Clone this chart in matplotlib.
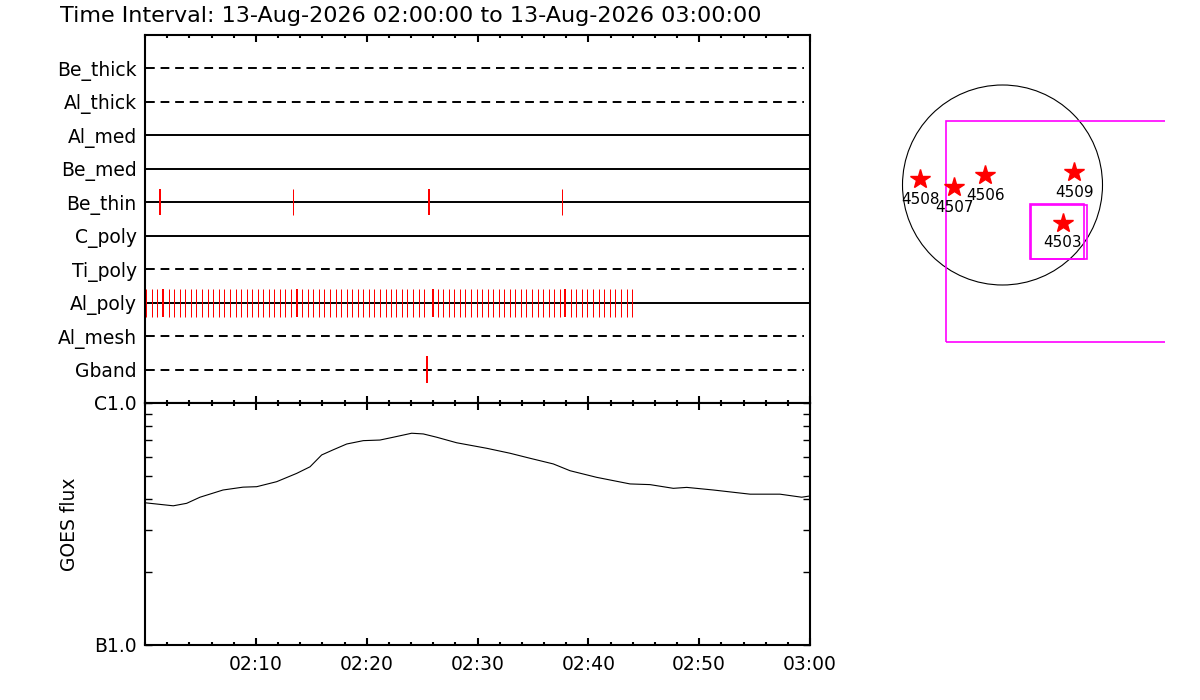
import numpy as np
import matplotlib
matplotlib.use('Agg')
import matplotlib.pyplot as plt
from matplotlib.patches import Circle, Rectangle
from matplotlib.ticker import MultipleLocator, FixedLocator, NullFormatter

# ---- data (time in minutes after 02:00:00) ----
title = 'Time Interval: 13-Aug-2026 02:00:00 to 13-Aug-2026 03:00:00'

filters = ['Be_thick', 'Al_thick', 'Al_med', 'Be_med', 'Be_thin',
           'C_poly', 'Ti_poly', 'Al_poly', 'Al_mesh', 'Gband']
filters_in = ['Al_med', 'Be_med', 'Be_thin', 'C_poly', 'Al_poly']

be_thin_major = [1.35, 25.6]
be_thin_minor = [13.35, 37.6]
al_poly_major = [1.65, 13.69, 25.96, 37.89]
al_poly_minor = [0.09, 0.60, 1.11, 2.14, 2.65, 3.14, 3.64, 4.13, 4.63, 5.14,
                 5.66, 6.16, 6.68, 7.16, 7.67, 8.18, 8.66, 9.17, 9.68, 10.17,
                 10.67, 11.16, 11.67, 12.18, 12.66, 13.17, 14.17, 14.68, 15.19,
                 15.70, 16.18, 16.69, 17.20, 17.68, 18.20, 18.70, 19.19, 19.70,
                 20.18, 20.69, 21.20, 21.70, 22.17, 22.67, 23.16, 23.67, 24.18,
                 24.70, 25.20, 26.41, 26.89, 27.40, 27.88, 28.39, 28.90, 29.41,
                 29.93, 30.41, 30.92, 31.43, 31.91, 32.42, 32.91, 33.41, 33.90,
                 34.40, 34.92, 35.43, 35.91, 36.42, 36.90, 37.42, 38.44, 38.91,
                 39.43, 39.91, 40.42, 40.93, 41.44, 41.93, 42.43, 42.95, 43.46,
                 43.97]
gband_major = [25.4]

goes_t = [0.0, 2.55, 3.76, 4.96, 7.04, 8.84, 10.08, 11.88, 13.69, 14.89,
          15.94, 16.96, 18.20, 19.70, 21.20, 22.40, 24.06, 25.11, 26.32, 28.12,
          30.83, 32.93, 34.74, 36.84, 38.35, 40.75, 43.76, 45.56, 47.67, 48.88,
          51.28, 54.59, 57.29, 59.25, 60.0]
goes_flux = [3.87e-7, 3.76e-7, 3.85e-7, 4.08e-7, 4.37e-7, 4.49e-7, 4.51e-7,
             4.73e-7, 5.12e-7, 5.45e-7, 6.10e-7, 6.40e-7, 6.77e-7, 6.99e-7,
             7.03e-7, 7.22e-7, 7.50e-7, 7.45e-7, 7.22e-7, 6.85e-7, 6.50e-7,
             6.20e-7, 5.91e-7, 5.60e-7, 5.25e-7, 4.93e-7, 4.63e-7, 4.60e-7,
             4.44e-7, 4.48e-7, 4.37e-7, 4.20e-7, 4.20e-7, 4.08e-7, 4.13e-7]

time_ticks = [10, 20, 30, 40, 50, 60]
time_labels = ['02:10', '02:20', '02:30', '02:40', '02:50', '03:00']
goes_ticks = [1e-7, 1e-6]
goes_labels = ['B1.0', 'C1.0']

# active regions (arcsec)
ar_nums = ['4508', '4507', '4506', '4509', '4503']
ar_x = [-412, -242, -86, 358, 302]
ar_y = [28, -12, 48, 65, -188]
fov_x, fov_y, fov_r = 0, 0, 500
# boxes: x0, y0, width, height
boxes = [(-284, -786, 2000, 1108), (138, -370, 271, 275), (143, -370, 278, 272)]

plt.rcParams['font.family'] = ['DejaVu Sans']
FS = 13.5

fig = plt.figure(figsize=(12, 7), dpi=100)
fig.patch.set_facecolor('white')
fig.text(60 / 1200, 1 - 16 / 700, title, fontsize=16, va='center', ha='left')

# ---- filter panel ----
ax1 = fig.add_axes([145 / 1200, 1 - 403 / 700, 665 / 1200, 368 / 700])
rows = np.arange(1, len(filters) + 1)
for f, r in zip(filters, rows):
    if f in filters_in:
        ax1.plot([0, 60], [r, r], color='black', lw=1.4, solid_capstyle='butt')
    else:
        ax1.plot([0.1, 59.5], [r, r], color='black', lw=1.4, dashes=(4.5, 3))

thin, thick = 0.72, 1.44   # 1 px and 2 px
r = rows[filters.index('Be_thin')]
ax1.vlines(be_thin_major, r - 0.39, r + 0.39, color='red', lw=thick, snap=True, zorder=3)
ax1.vlines(be_thin_minor, r - 0.39, r + 0.39, color='red', lw=thin, snap=True, zorder=3)
r = rows[filters.index('Al_poly')]
ax1.vlines(al_poly_minor, r - 0.42, r + 0.42, color='red', lw=thin, snap=True, zorder=3)
ax1.vlines(al_poly_major, r - 0.42, r + 0.42, color='red', lw=thick, snap=True, zorder=3)
r = rows[filters.index('Gband')]
ax1.vlines(gband_major, r - 0.39, r + 0.39, color='red', lw=thick, snap=True, zorder=3)

ax1.set_xlim(0, 60)
ax1.set_ylim(len(filters) + 1, 0)
ax1.set_yticks(rows)
ax1.set_yticklabels(filters, fontsize=FS)
ax1.tick_params(axis='y', length=0, pad=6)
ax1.xaxis.set_major_locator(FixedLocator(time_ticks))
ax1.xaxis.set_minor_locator(MultipleLocator(2))
ax1.xaxis.set_major_formatter(NullFormatter())
ax1.tick_params(axis='x', which='both', direction='in', top=True, bottom=True,
                labelbottom=False, width=1.5)
ax1.tick_params(axis='x', which='major', length=5)
ax1.tick_params(axis='x', which='minor', length=2.5)
for s in ax1.spines.values():
    s.set_linewidth(1.5)

# ---- GOES panel ----
ax2 = fig.add_axes([145 / 1200, 1 - 645 / 700, 665 / 1200, 242 / 700])
ax2.plot(goes_t, goes_flux, color='black', lw=0.8)
ax2.set_yscale('log')
ax2.set_xlim(0, 60)
ax2.set_ylim(1e-7, 1e-6)
ax2.yaxis.set_major_locator(FixedLocator(goes_ticks))
ax2.set_yticklabels(goes_labels, fontsize=FS)
ax2.yaxis.set_minor_formatter(NullFormatter())
ax2.set_ylabel('GOES flux', fontsize=FS, labelpad=11)
ax2.tick_params(axis='y', which='both', direction='in', left=True, right=True,
                length=5, width=1, pad=6)
ax2.xaxis.set_major_locator(FixedLocator(time_ticks))
ax2.set_xticklabels(time_labels, fontsize=FS)
ax2.xaxis.set_minor_locator(MultipleLocator(2))
ax2.tick_params(axis='x', which='both', direction='in', top=True, bottom=True,
                width=1.5, pad=7)
ax2.tick_params(axis='x', which='major', length=5)
ax2.tick_params(axis='x', which='minor', length=2.5)
for s in ax2.spines.values():
    s.set_linewidth(1.5)

# ---- context map ----
ax3 = fig.add_axes([860 / 1200, 1 - 403 / 700, 305 / 1200, 368 / 700])
ax3.set_xlim(-712.5, 812.5)
ax3.set_ylim(-1090, 750)
ax3.axis('off')
ax3.add_patch(Circle((fov_x, fov_y), fov_r, fill=False, ec='black', lw=0.8))
for x0, y0, w, h in boxes:
    ax3.add_patch(Rectangle((x0, y0), w, h, fill=False, ec='#ff00ff', lw=1.2))
ax3.plot(ar_x, ar_y, ls='none', marker='*', ms=15, color='red', mec='red')
for n, x, y in zip(ar_nums, ar_x, ar_y):
    ax3.annotate(n, (x, y), xytext=(0, -14.5), textcoords='offset points',
                 ha='center', va='center', fontsize=11)

fig.savefig('out.png', dpi=100)
